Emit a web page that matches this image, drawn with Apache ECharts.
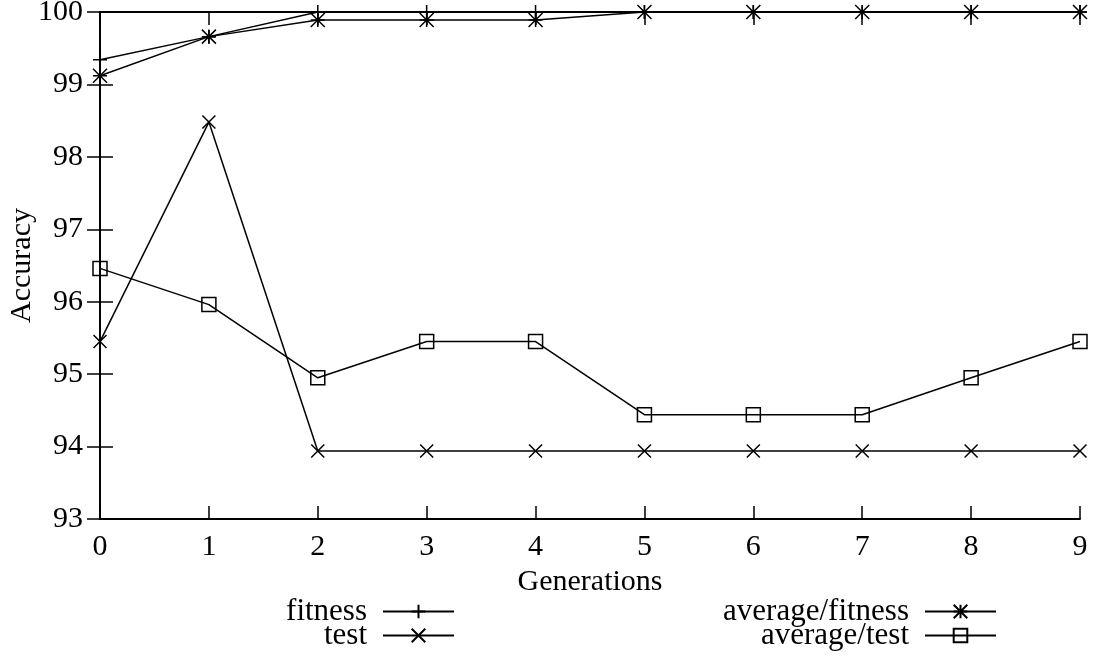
<!DOCTYPE html>
<html>
<head>
<meta charset="utf-8">
<script src="https://cdn.jsdelivr.net/npm/echarts@6/dist/echarts.min.js"></script>
<style>
html,body{margin:0;padding:0;background:#fff;}
#chart{width:1093px;height:660px;}
</style>
</head>
<body>
<div id="chart"></div>
<script>
const generations = [0, 1, 2, 3, 4, 5, 6, 7, 8, 9];
const fitness    = [99.34, 99.66, 100, 100, 100, 100, 100, 100, 100, 100];
const test       = [95.45, 98.48, 93.94, 93.94, 93.94, 93.94, 93.94, 93.94, 93.94, 93.94];
const avgFitness = [99.12, 99.66, 99.89, 99.89, 99.89, 100, 100, 100, 100, 100];
const avgTest    = [96.46, 95.96, 94.95, 95.45, 95.45, 94.44, 94.44, 94.44, 94.95, 95.45];
const seriesNames = ['fitness', 'test', 'average/fitness', 'average/test'];

const FONT = 'Liberation Serif';
const SYM_PLUS = 'path://M5,0L5,10M0,5L10,5';
const SYM_CROSS = 'path://M0,0L10,10M10,0L0,10';
const SYM_STAR = 'path://M5,0L5,10M0,5L10,5M0,0L10,10M10,0L0,10';

function pairs(ys) { return generations.map((g, i) => [g, ys[i]]); }

function mkSeries(name, ys, symbol, size) {
  return {
    name: name,
    type: 'line',
    data: pairs(ys),
    symbol: symbol,
    symbolSize: size,
    showAllSymbol: true,
    clip: false,
    xAxisIndex: 0,
    yAxisIndex: 0,
    lineStyle: { color: '#000', width: 1.5 },
    itemStyle: { color: 'transparent', borderColor: '#000', borderWidth: 1.5 },
    emphasis: { disabled: true },
    animation: false
  };
}

const chart = echarts.init(document.getElementById('chart'));
const baseAxis = {
  axisLine: { show: true, lineStyle: { color: '#000', width: 1.8 } },
  axisTick: { show: true, inside: true, length: 13, lineStyle: { color: '#000', width: 1.5 } },
  splitLine: { show: false }
};
const legendText = { fontFamily: FONT, fontSize: 31, color: '#000', padding: [0, 11, 0, 0] };
chart.setOption({
  animation: false,
  backgroundColor: '#fff',
  textStyle: { fontFamily: FONT, color: '#000' },
  grid: { left: 100, right: 13, top: 12, bottom: 141, containLabel: false, outerBoundsMode: 'none' },
  legend: [
    {
      data: [seriesNames[0], seriesNames[1]],
      orient: 'vertical', align: 'right',
      right: 638, top: 596, padding: 0,
      itemWidth: 71, itemHeight: 17, itemGap: -7,
      textStyle: legendText,
      selectedMode: false
    },
    {
      data: [seriesNames[2], seriesNames[3]],
      orient: 'vertical', align: 'right',
      right: 96, top: 596, padding: 0,
      itemWidth: 71, itemHeight: 17, itemGap: -7,
      textStyle: legendText,
      selectedMode: false
    }
  ],
  xAxis: [
    Object.assign({}, baseAxis, {
      type: 'value', min: 0, max: 9, interval: 1, position: 'bottom',
      name: 'Generations', nameLocation: 'middle', nameGap: 46,
      nameTextStyle: { fontFamily: FONT, fontSize: 30, color: '#000' },
      axisLabel: { fontFamily: FONT, fontSize: 30, color: '#000', margin: 13 }
    }),
    Object.assign({}, baseAxis, {
      type: 'value', min: 0, max: 9, interval: 1, position: 'top',
      axisLabel: { show: false }
    })
  ],
  yAxis: [
    Object.assign({}, baseAxis, {
      type: 'value', min: 93, max: 100, interval: 1, position: 'left',
      name: 'Accuracy', nameLocation: 'middle', nameGap: 63, nameRotate: 90,
      nameMoveOverlap: false,
      nameTextStyle: { fontFamily: FONT, fontSize: 30, color: '#000' },
      axisLabel: { fontFamily: FONT, fontSize: 30, color: '#000', margin: 17 }
    }),
    Object.assign({}, baseAxis, {
      type: 'value', min: 93, max: 100, interval: 1, position: 'right',
      axisLabel: { show: false }
    })
  ],
  series: [
    mkSeries(seriesNames[0], fitness, SYM_PLUS, 14),
    mkSeries(seriesNames[1], test, SYM_CROSS, 13),
    mkSeries(seriesNames[2], avgFitness, SYM_STAR, 14),
    mkSeries(seriesNames[3], avgTest, 'rect', 14)
  ]
});
</script>
</body>
</html>
